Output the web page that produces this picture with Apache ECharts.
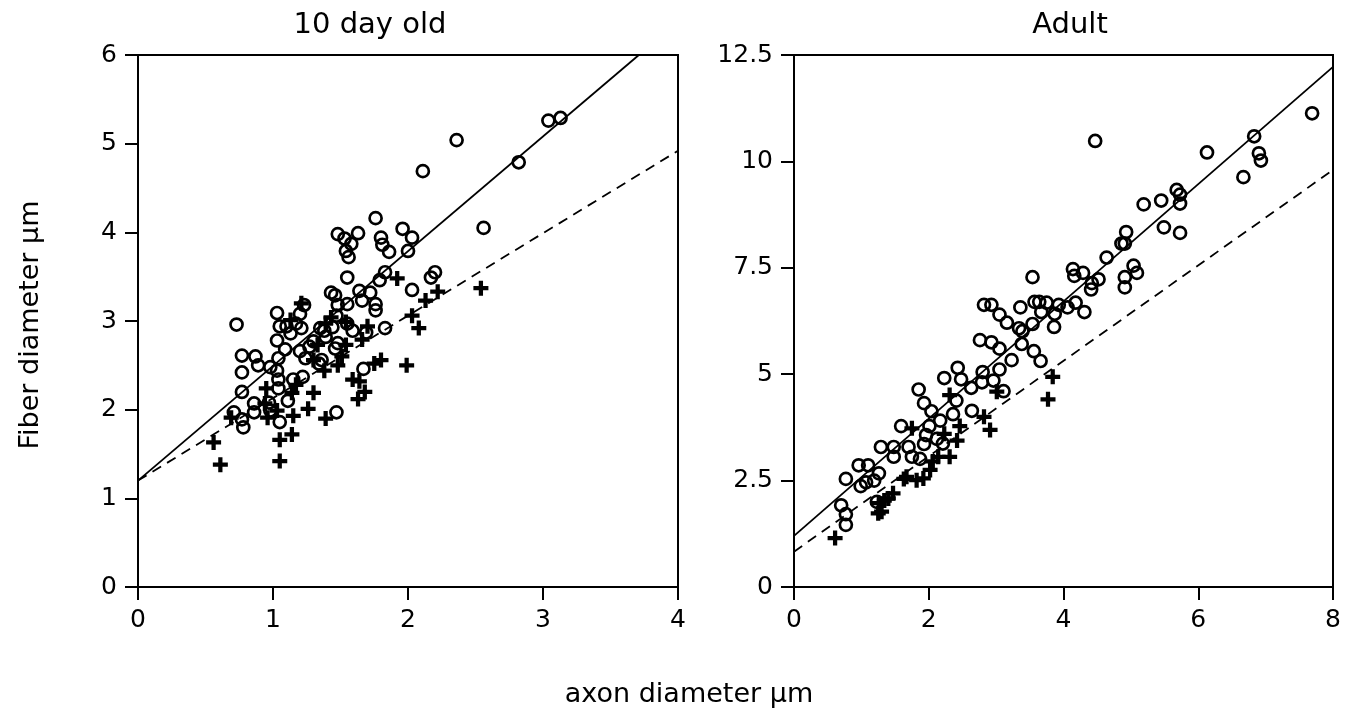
<!DOCTYPE html>
<html>
<head>
<meta charset="utf-8">
<script src="https://cdn.jsdelivr.net/npm/echarts@6/dist/echarts.min.js"></script>
<style>html,body{margin:0;padding:0;background:#fff;}#chart{width:1348px;height:711px;}</style>
</head>
<body>
<div id="chart"></div>
<script>
// ---------- DATA ----------
const panelTitles = ['10 day old', 'Adult'];
const xAxisName = 'axon diameter \u03bcm';
const yAxisName = 'Fiber diameter \u03bcm';

// 10 day old: open circles [axon, fiber]
const youngCircles = [
  [3.04,5.26],[3.13,5.29],[2.36,5.04],[2.11,4.69],[2.82,4.79],[2.56,4.05],[1.76,4.16],
  [1.48,3.98],[1.53,3.93],[1.63,3.99],[1.58,3.87],[1.54,3.79],[1.56,3.72],[1.80,3.94],
  [1.81,3.86],[1.86,3.78],[1.96,4.04],[2.03,3.94],[2.00,3.79],[1.83,3.55],[1.79,3.46],
  [2.20,3.55],[2.17,3.49],[2.03,3.35],[1.55,3.49],[1.64,3.34],[1.72,3.32],[1.66,3.23],
  [1.43,3.32],[1.46,3.29],[1.48,3.18],[1.55,3.19],[1.76,3.19],[1.76,3.12],[1.83,2.92],
  [1.23,3.18],[1.20,3.08],[1.03,3.09],[0.73,2.96],[1.05,2.94],[1.10,2.94],[1.17,2.97],
  [1.21,2.92],[1.13,2.86],[1.03,2.78],[1.09,2.68],[0.77,2.61],[0.87,2.60],[0.89,2.50],
  [0.77,2.42],[1.04,2.58],[1.03,2.44],[0.98,2.48],[1.04,2.34],[1.15,2.34],[1.22,2.37],
  [1.04,2.24],[0.77,2.20],[1.11,2.10],[0.97,2.08],[0.86,2.07],[0.86,1.97],[0.71,1.97],
  [0.98,1.99],[0.77,1.89],[0.78,1.80],[1.05,1.86],[1.47,1.97],[1.20,2.66],[1.24,2.58],
  [1.27,2.71],[1.30,2.77],[1.35,2.92],[1.38,2.89],[1.39,2.82],[1.44,2.93],[1.48,2.75],
  [1.46,2.69],[1.47,3.06],[1.55,2.97],[1.59,2.89],[1.69,2.87],[1.36,2.56],[1.67,2.46],
  [1.34,2.52]
];
// 10 day old: crosses
const youngCrosses = [
  [2.54,3.37],[2.22,3.33],[2.13,3.23],[1.92,3.48],[2.03,3.06],[2.08,2.92],[1.99,2.50],
  [1.80,2.56],[1.75,2.52],[1.70,2.94],[1.66,2.79],[1.59,2.34],[1.64,2.32],[1.68,2.20],
  [1.63,2.12],[1.54,2.99],[1.54,2.73],[1.51,2.60],[1.48,2.50],[1.39,2.97],[1.43,3.04],
  [1.33,2.73],[1.30,2.56],[1.38,2.44],[1.30,2.19],[1.26,2.01],[1.39,1.90],[1.21,3.20],
  [1.13,3.01],[1.17,2.28],[1.15,1.93],[1.14,1.72],[1.05,1.66],[1.05,1.42],[0.95,2.24],
  [0.96,1.91],[1.03,1.99],[0.94,2.07],[0.56,1.63],[0.61,1.38],[0.69,1.91],[1.14,2.19]
];
// Adult: open circles
const adultCircles = [
  [7.69,11.13],[6.83,10.59],[6.90,10.19],[6.93,10.02],[6.67,9.63],[6.13,10.21],[4.47,10.48],
  [5.68,9.33],[5.73,9.22],[5.73,9.01],[5.73,8.32],[5.45,9.08],[5.49,8.45],[5.19,8.99],
  [4.93,8.34],[4.86,8.07],[4.91,8.07],[4.64,7.74],[5.04,7.55],[5.09,7.38],[4.91,7.28],
  [4.91,7.04],[4.14,7.47],[4.16,7.31],[4.29,7.38],[4.42,7.14],[4.52,7.23],[4.41,6.99],
  [3.54,7.28],[4.18,6.68],[4.31,6.46],[4.06,6.57],[3.93,6.63],[3.75,6.68],[3.64,6.70],
  [3.57,6.70],[3.67,6.46],[3.87,6.42],[3.86,6.11],[3.54,6.18],[3.39,6.01],[3.36,6.57],
  [2.82,6.63],[2.93,6.63],[3.05,6.40],[3.16,6.21],[3.34,6.08],[3.38,5.71],[3.56,5.54],
  [3.66,5.31],[3.23,5.33],[3.05,5.60],[2.93,5.75],[2.76,5.80],[2.80,5.05],[3.05,5.11],
  [2.96,4.85],[2.79,4.81],[3.11,4.60],[2.43,5.15],[2.48,4.88],[2.23,4.91],[2.63,4.68],
  [1.85,4.64],[1.93,4.32],[2.41,4.38],[2.64,4.14],[2.04,4.13],[2.17,3.91],[2.36,4.06],
  [1.59,3.78],[2.01,3.78],[1.96,3.57],[2.12,3.48],[2.21,3.37],[1.93,3.36],[1.70,3.29],
  [1.48,3.29],[1.29,3.29],[1.75,3.06],[1.87,3.01],[1.48,3.06],[0.96,2.86],[1.10,2.86],
  [1.26,2.67],[0.77,2.54],[1.07,2.46],[0.99,2.37],[1.19,2.50],[0.70,1.92],[0.77,1.71],
  [0.77,1.46],[1.23,2.00]
];
// Adult: crosses
const adultCrosses = [
  [3.84,4.94],[3.77,4.41],[2.91,3.69],[2.82,4.00],[3.01,4.59],[2.46,3.78],[2.42,3.44],
  [2.31,3.06],[2.31,4.51],[1.75,3.73],[2.14,3.06],[2.06,2.95],[2.02,2.75],[1.92,2.55],
  [1.82,2.51],[1.67,2.59],[1.63,2.54],[1.47,2.20],[1.40,2.08],[1.34,2.03],[1.26,1.97],
  [1.30,1.77],[1.25,1.73],[0.61,1.15],[2.23,3.60]
];
// regression lines (endpoints)
const youngSolidLine = [[0,1.20],[3.71,6.00]];
const youngDashedLine = [[0,1.20],[4.00,4.92]];
const adultSolidLine = [[0,1.20],[8.00,12.22]];
const adultDashedLine = [[0,0.83],[8.00,9.80]];

const youngXTicks = {min:0, max:4, interval:1};
const youngYTicks = {min:0, max:6, interval:1};
const adultXTicks = {min:0, max:8, interval:2};
const adultYTicks = {min:0, max:12.5, interval:2.5};

// ---------- CHART ----------
const FONT = '"DejaVu Sans", "Liberation Sans", Arial, sans-serif';
const plusPath = 'path://M0,4.3H4.3V0H7.7V4.3H12V7.7H7.7V12H4.3V7.7H0Z';

function axisCommon(t, idx){
  return Object.assign({
    type:'value', gridIndex:idx,
    axisLine:{show:true, onZero:false, lineStyle:{color:'#000', width:2}},
    axisTick:{show:true, inside:false, length:13, lineStyle:{color:'#000', width:2}},
    axisLabel:{color:'#000', fontSize:25, fontFamily:FONT, margin:21},
    splitLine:{show:false}
  }, t);
}
function circles(data, i){
  return {type:'scatter', xAxisIndex:i, yAxisIndex:i, data:data, symbol:'circle', symbolSize:12,
    itemStyle:{color:'rgba(0,0,0,0)', borderColor:'#000', borderWidth:2.7, opacity:1}, z:3, silent:true, emphasis:{disabled:true}};
}
function crosses(data, i){
  return {type:'scatter', xAxisIndex:i, yAxisIndex:i, data:data, symbol:plusPath, symbolSize:15,
    itemStyle:{color:'#000', opacity:1}, z:4, silent:true, emphasis:{disabled:true}};
}
function fitLine(data, i, dashed){
  return {type:'line', xAxisIndex:i, yAxisIndex:i, data:data, showSymbol:false, symbol:'none', z:2, silent:true,
    lineStyle:{color:'#000', width:1.8, type: dashed ? [10,7] : 'solid'}};
}

const chart = echarts.init(document.getElementById('chart'), null, {renderer:'canvas'});
chart.setOption({
  animation:false,
  backgroundColor:'#fff',
  title:[
    {text:panelTitles[0], left:365, top:6, textAlign:'center', textStyle:{fontSize:29, fontWeight:'normal', color:'#000', fontFamily:FONT}},
    {text:panelTitles[1], left:1065, top:6, textAlign:'center', textStyle:{fontSize:29, fontWeight:'normal', color:'#000', fontFamily:FONT}}
  ],
  grid:[
    {left:138, top:55, width:540, height:532, show:true, borderColor:'#000', borderWidth:2, backgroundColor:'transparent'},
    {left:794, top:55, width:539, height:532, show:true, borderColor:'#000', borderWidth:2, backgroundColor:'transparent'}
  ],
  xAxis:[axisCommon(youngXTicks,0), axisCommon(adultXTicks,1)],
  yAxis:[axisCommon(youngYTicks,0), axisCommon(adultYTicks,1)],
  graphic:[
    {type:'text', x:31, y:325, rotation:Math.PI/2, style:{text:yAxisName, fill:'#000', font:'27px '+FONT, textAlign:'center', textVerticalAlign:'middle'}},
    {type:'text', x:689, y:695, style:{text:xAxisName, fill:'#000', font:'27px '+FONT, textAlign:'center', textVerticalAlign:'middle'}}
  ],
  series:[
    fitLine(youngSolidLine,0,false), fitLine(youngDashedLine,0,true),
    circles(youngCircles,0), crosses(youngCrosses,0),
    fitLine(adultSolidLine,1,false), fitLine(adultDashedLine,1,true),
    circles(adultCircles,1), crosses(adultCrosses,1)
  ]
});
</script>
</body>
</html>
